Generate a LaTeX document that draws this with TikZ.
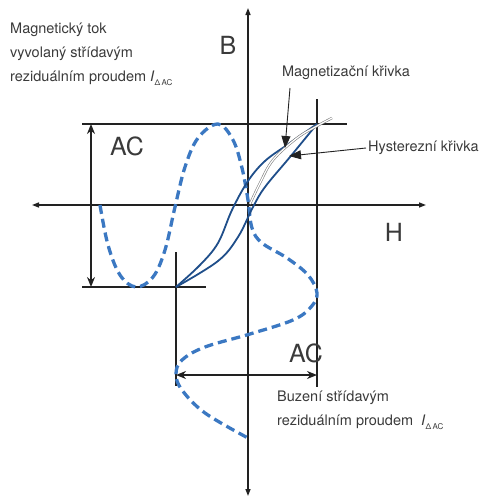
\documentclass[tikz,border=0pt]{standalone}
\usepackage{fontspec}
\setmainfont{TeX Gyre Heros}
\usetikzlibrary{arrows.meta}
\definecolor{lineblk}{HTML}{222222}
\definecolor{loopblue}{HTML}{1F4E8A}
\definecolor{dashblue}{HTML}{3B78C2}
\definecolor{txt}{HTML}{3A3A3A}
\begin{document}
\begin{tikzpicture}[x=1pt,y=-1pt,
 axis/.style={draw=lineblk, line width=1.3pt, {Triangle[length=7pt,width=5pt]}-{Triangle[length=7pt,width=5pt]}},
 guide/.style={draw=lineblk, line width=1.8pt},
 dim/.style={draw=lineblk, line width=1.8pt, {Stealth[length=10pt,width=8pt]}-{Stealth[length=10pt,width=8pt]}},
 loop/.style={draw=loopblue, line width=1.8pt},
 wave/.style={draw=dashblue, line width=3.3pt, dash pattern=on 9pt off 5pt},
 magc/.style={draw=gray, line width=0.6pt, double=white, double distance=1.2pt},
 pointer/.style={draw=lineblk, line width=0.9pt, -{Triangle[length=12pt,width=9pt]}},
 lbl/.style={text=txt, font=\fontsize{14.5}{17}\selectfont, inner sep=0pt},
 big/.style={text=txt, font=\fontsize{25}{28}\selectfont, inner sep=0pt}]
\useasboundingbox (0,0) rectangle (485,498);
% coordinates
\coordinate (Btop) at (248,8);
\coordinate (Bbot) at (248,496);
\coordinate (Hl) at (32,205);
\coordinate (Hr) at (426,205);
\coordinate (T1) at (82,124);
\coordinate (T2) at (347,124);
\coordinate (D1) at (82,287);
\coordinate (D2) at (206,287);
\coordinate (L1) at (176,252);
\coordinate (L2) at (176,386);
\coordinate (R1) at (317,99);
\coordinate (R2) at (317,387);
\coordinate (V1) at (91,124);
\coordinate (V2) at (91,287);
\coordinate (W1) at (176,375);
\coordinate (W2) at (317,375);
\coordinate (m1) at (290,88);
\coordinate (m2) at (285,148);
\coordinate (h1) at (366,148);
\coordinate (h2) at (289,156);
% axes and guides
\draw[axis] (Bbot) -- (Btop);
\draw[axis] (Hl) -- (Hr);
\draw[guide] (T1) -- (T2);
\draw[guide] (D1) -- (D2);
\draw[guide] (L1) -- (L2);
\draw[guide] (R1) -- (R2);
\draw[dim] (V1) -- (V2);
\draw[dim] (W1) -- (W2);
% dashed waves
\draw[wave] plot[smooth, tension=0.6] coordinates {(100,205) (108,245) (120,275) (136,287) (153,277) (165,250) (175,207) (185,167) (198,138) (218,124) (233,140) (242,168) (248,200) (252,228) (262,243) (287,258) (308,275) (317,293) (311,307) (293,320) (250,334) (205,347) (182,360) (176,374) (182,390) (205,413) (248,438)};
% hysteresis loop
\draw[loop] plot[smooth, tension=0.6] coordinates {(176,287) (200,265) (218,243) (232,210) (248,181) (265,161) (287,145) (317,124)};
\draw[loop] plot[smooth, tension=0.6] coordinates {(176,287) (218,261) (238,237) (253,207) (265,187) (290,157) (317,124)};
% magnetization curve
\draw[magc] plot[smooth, tension=0.6] coordinates {(250,204) (260,183) (273,160) (297,138) (317,126) (332,118)};
% pointers
\draw[pointer] (m1) -- (m2);
\draw[pointer] (h1) -- (h2);
% labels
\node[big] (lB) at (228,45) {B};
\node[big] (lH) at (394,232) {H};
\node[big] (ac1) at (127,146) {AC};
\node[big] (ac2) at (306,353) {AC};
\node[lbl, anchor=west] (f1) at (10,30) {Magnetický tok};
\node[lbl, anchor=west] (f2) at (10,54) {vyvolaný střídavým};
\node[lbl, anchor=west] (f3) at (10,78) {reziduálním proudem \textit{I}\raisebox{-4pt}{\fontsize{8}{8}\selectfont Δ\,AC}};
\node[lbl] (mk) at (346,73) {Magnetizační křivka};
\node[lbl, anchor=west] (hk) at (368,148) {Hysterezní křivka};
\node[lbl, anchor=west] (b1) at (277,398) {Buzení střídavým};
\node[lbl, anchor=west] (b2) at (277,422) {reziduálním proudem\ \ \textit{I}\raisebox{-4pt}{\fontsize{8}{8}\selectfont Δ\,AC}};
\end{tikzpicture}
\end{document}
